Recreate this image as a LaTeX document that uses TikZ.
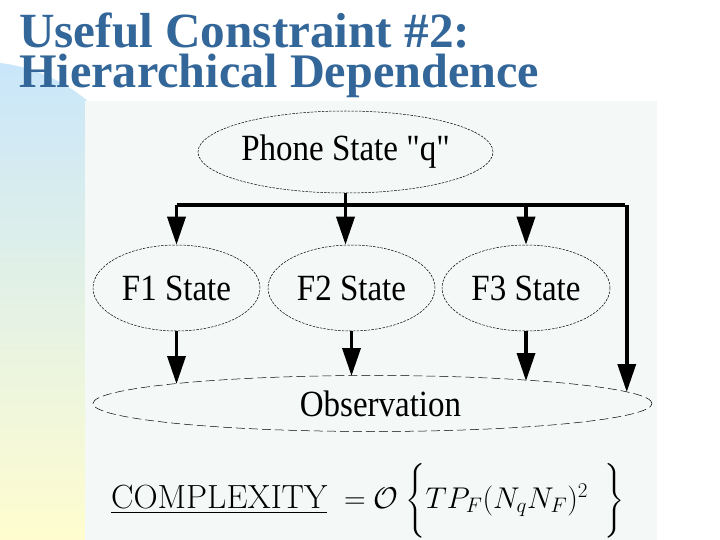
\RequirePackage{fix-cm}
\documentclass[tikz,border=0pt]{standalone}
\usepackage[no-math]{fontspec}
\usepackage{amsmath}
\usepackage{graphicx}
\usepackage{tikz}
\usetikzlibrary{arrows.meta, positioning, shapes.geometric, calc}
\newfontfamily\slidefont{Liberation Serif}
\definecolor{titleblue}{HTML}{336699}
\definecolor{stripblue}{HTML}{C9E6FA}
\definecolor{stripgreen}{HTML}{E2F1EA}
\definecolor{stripyellow}{HTML}{FFFDCF}
\definecolor{panelgray}{HTML}{F4F9F8}
\newcommand{\tall}[1]{\scalebox{1}[1.12]{#1}}

\tikzset{
    state/.style={ellipse, draw, line width=0.5pt, dash pattern=on 2.5pt off 1.2pt,
        inner sep=0pt, font=\slidefont\fontsize{33}{36}\selectfont},
    link/.style={line width=3.5pt},
    arr/.style={line width=3.5pt, -{Triangle[width=18pt,length=28pt]}},
}

\begin{document}
\begin{tikzpicture}[x=1pt, y=-1pt]
    \useasboundingbox (0,0) rectangle (720,540);
    \fill[white] (0,0) rectangle (720,540);

    % left strip and panel
    \shade[top color=stripblue, middle color=stripgreen, bottom color=stripyellow]
        (0,540) -- (0,63) .. controls (35,67) and (70,84) .. (92,105) -- (92,540) -- cycle;
    \fill[panelgray] (85,101) rectangle (657,540);

    % title
    \node[anchor=base west, inner sep=0pt, text=titleblue,
        font=\slidefont\bfseries\fontsize{49.2}{40}\selectfont] (title1) at (19,48) {Useful Constraint \#2:};
    \node[anchor=base west, inner sep=0pt, text=titleblue,
        font=\slidefont\bfseries\fontsize{48.2}{40}\selectfont] (title2) at (19,88) {Hierarchical Dependence};

    % states
    \node[state, minimum width=295pt, minimum height=82pt] (phone) at (345.5,152) {\tall{Phone State "q"}};
    \node[state, minimum width=167pt, minimum height=86pt] (f1) at (176.5,288) {\tall{F1 State}};
    \node[state, minimum width=167pt, minimum height=86pt] (f2) at (351.5,288) {\tall{F2 State}};
    \node[state, minimum width=168pt, minimum height=86pt] (f3) at (526,288) {\tall{F3 State}};
    \node[state, minimum width=559pt, minimum height=56pt, dash pattern=on 9pt off 4pt] (obs) at (372.5,403.5)
        {\raisebox{-4pt}{\hspace*{16pt}\tall{Observation}}};

    % bus from the phone state
    \coordinate (busL) at (176.5,205);
    \coordinate (busR) at (625,205);
    \coordinate (o1) at (176.5,384);
    \coordinate (o2) at (351.5,376);
    \coordinate (o3) at (526,381);
    \coordinate (o4) at (625,392);

    \draw[link] (phone.south) -- (phone.south |- busL);
    \draw[link] (busL) -- (busR);
    \draw[arr] (busL) -- (f1.north);
    \draw[arr] (phone.south |- busL) -- (phone.south |- f2.north);
    \draw[arr] (f3.north |- busR) -- (f3.north);
    \draw[arr] ([xshift=1.75pt]busR) -- ([xshift=1.75pt]o4);

    % states to observation
    \draw[arr] (f1.south) -- (o1);
    \draw[arr] (f2.south) -- (o2);
    \draw[arr] (f3.south) -- (o3);

    % complexity
    \node[anchor=base west, inner sep=0pt, font=\fontsize{30}{34}\selectfont] (cost) at (111,508)
        {$\underline{\text{\fontsize{33.5}{36}\selectfont COMPLEXITY}}\;= \mathcal{O}\hspace{7pt}\biggl\{ T P_F (N_q N_F)^2 \hspace{16pt}\biggr\}$};
\end{tikzpicture}
\end{document}
